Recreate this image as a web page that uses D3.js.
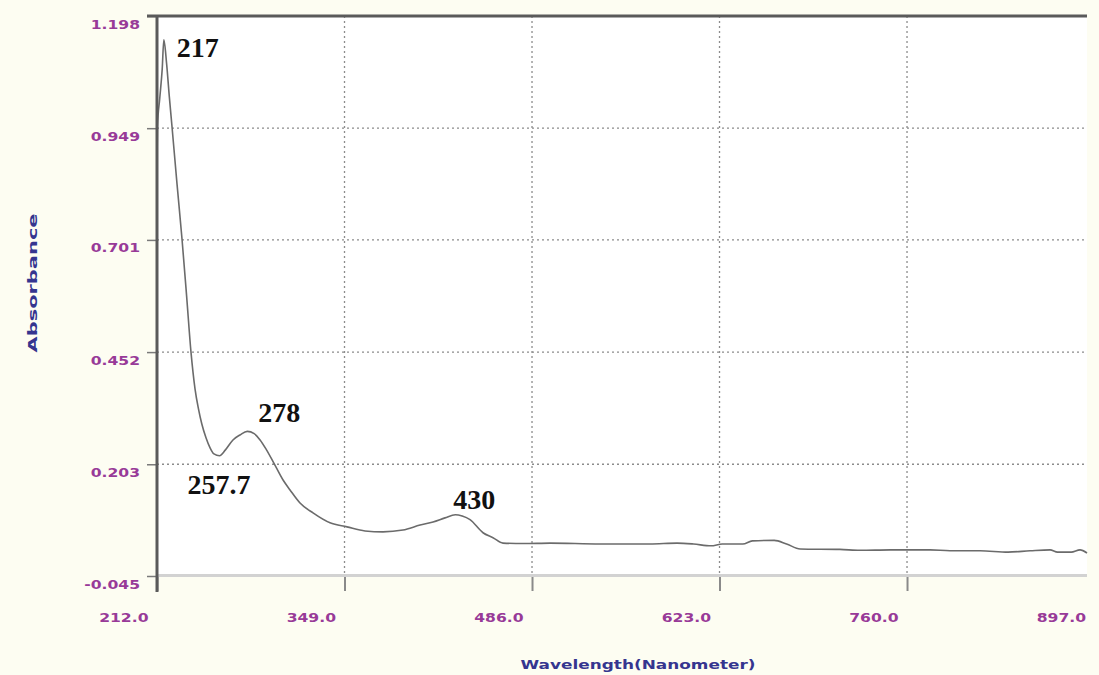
<!DOCTYPE html>
<html>
<head>
<meta charset="utf-8">
<script src="https://cdn.jsdelivr.net/npm/d3@7"></script>
<style>
  html, body { margin: 0; padding: 0; background: #fdfdf2; }
  svg { display: block; }
</style>
</head>
<body>
<svg id="chart" width="1099" height="675"></svg>
<script>
// UV-Vis absorbance spectrum
const wavelength = [
  212.0, 212.3, 214.0, 215.8, 217.0, 219.0, 221.0, 223.0, 226.6, 230.3,
  233.6, 236.8, 239.8, 242.3, 244.7, 247.8, 250.7, 253.6, 257.7, 262.0,
  267.5, 272.6, 278.0, 283.0, 287.3, 292.0, 296.8, 304.1, 309.2, 316.5,
  326.0, 338.4, 350.8, 364.0, 377.1, 391.7, 404.2, 413.7, 422.4, 430.0,
  435.0, 440.7, 450.2, 457.5, 464.8, 480.0, 499.2, 535.7, 572.2, 592.0,
  604.0, 616.8, 625.0, 640.0, 647.0, 663.0, 672.0, 681.9, 711.0, 725.7,
  747.7, 776.8, 791.4, 813.3, 833.8, 849.9, 864.5, 870.0, 880.0, 886.4,
  891.5
];
const absorbance = [
  0.864, 0.951, 1.015, 1.080, 1.145, 1.093, 1.019, 0.951, 0.826, 0.702,
  0.578, 0.453, 0.370, 0.326, 0.293, 0.262, 0.240, 0.226, 0.222, 0.235,
  0.257, 0.268, 0.276, 0.271, 0.257, 0.235, 0.209, 0.168, 0.146, 0.117,
  0.095, 0.073, 0.064, 0.055, 0.053, 0.057, 0.068, 0.075, 0.084, 0.091,
  0.088, 0.080, 0.051, 0.040, 0.028, 0.027, 0.028, 0.026, 0.026, 0.028,
  0.026, 0.022, 0.026, 0.026, 0.033, 0.034, 0.026, 0.015, 0.014, 0.012,
  0.013, 0.013, 0.011, 0.011, 0.008, 0.011, 0.013, 0.008, 0.008, 0.013,
  0.006
];

const xTickValues = [212, 349, 486, 623, 760, 897];
const yTickValues = [-0.045, 0.203, 0.452, 0.701, 0.949, 1.198];

const peakLabels = ["217", "278", "257.7", "430"];
const peakWavelengths = [217, 278, 257.7, 430];

const xTitle = "Wavelength(Nanometer)";
const yTitle = "Absorbance";

// ---- layout ----
const W = 1099, H = 675;
const plot = { left: 157, top: 16, right: 1087, bottom: 576 };
const xMax = 891.5;

const x = d3.scaleLinear().domain([212, xMax]).range([plot.left, plot.right]);
const y = d3.scaleLinear().domain([-0.045, 1.198]).range([plot.bottom, plot.top]);

const svg = d3.select("#chart");
const labelColor = "#983a98";
const titleColor = "#35358f";
const labelFont = "'DejaVu Sans', Verdana, sans-serif";

// backgrounds
svg.append("rect").attr("width", W).attr("height", H).attr("fill", "#fdfdf2");
svg.append("rect")
  .attr("x", plot.left).attr("y", plot.top)
  .attr("width", plot.right - plot.left).attr("height", plot.bottom - plot.top)
  .attr("fill", "#ffffff");

// dotted grid
const grid = svg.append("g")
  .attr("stroke", "#8c8c8c").attr("stroke-width", 1.3).attr("stroke-dasharray", "2,3");
grid.selectAll("line.v")
  .data(xTickValues.filter(v => v > 212 && v < xMax))
  .join("line").attr("class", "v")
  .attr("x1", d => x(d)).attr("x2", d => x(d))
  .attr("y1", plot.top).attr("y2", plot.bottom);
grid.selectAll("line.h")
  .data(yTickValues.filter(v => v > -0.045 && v < 1.198))
  .join("line").attr("class", "h")
  .attr("x1", plot.left).attr("x2", plot.right)
  .attr("y1", d => y(d)).attr("y2", d => y(d));

// stretches tick text horizontally to the wide face used on the instrument print-out
function widen(sel, k) {
  sel.each(function () {
    const w = this.getComputedTextLength();
    d3.select(this).attr("textLength", w * k).attr("lengthAdjust", "spacingAndGlyphs");
  });
}

// x axis
const xAxis = d3.axisBottom(x)
  .tickValues(xTickValues)
  .tickSize(15)
  .tickFormat(d => d.toFixed(1));
const gx = svg.append("g")
  .attr("transform", `translate(0,${plot.bottom})`)
  .call(xAxis)
  .attr("font-family", labelFont)
  .attr("font-size", 13)
  .attr("font-weight", "bold");
gx.select(".domain").remove();
gx.selectAll(".tick line")
  .attr("stroke", "#8a8a8a").attr("stroke-width", 2)
  .attr("display", d => (d > xMax ? "none" : null));
gx.selectAll(".tick text")
  .attr("fill", labelColor)
  .attr("text-anchor", "end")
  .attr("x", -9)
  .attr("y", 46)
  .attr("dy", 0)
  .call(widen, 1.2);

// y axis
const yAxis = d3.axisLeft(y)
  .tickValues(yTickValues)
  .tickSize(10)
  .tickPadding(7)
  .tickFormat(d => d.toFixed(3));
const gy = svg.append("g")
  .attr("transform", `translate(${plot.left},0)`)
  .call(yAxis)
  .attr("font-family", labelFont)
  .attr("font-size", 13)
  .attr("font-weight", "bold");
gy.select(".domain").remove();
gy.selectAll(".tick line").attr("stroke", "#7a7a7a").attr("stroke-width", 1.5);
gy.selectAll(".tick text")
  .attr("fill", labelColor)
  .attr("dy", 12)
  .call(widen, 1.2);

// spectrum trace
const line = d3.line()
  .x(d => x(d[0]))
  .y(d => y(d[1]))
  .curve(d3.curveMonotoneX);
svg.append("path")
  .datum(wavelength.map((w, i) => [w, absorbance[i]]))
  .attr("fill", "none")
  .attr("stroke", "#6b6b6b")
  .attr("stroke-width", 1.6)
  .attr("stroke-linejoin", "round")
  .attr("d", line);

// frame: light bottom rule, dark top border and left axis
svg.append("line")
  .attr("x1", plot.left).attr("x2", plot.right)
  .attr("y1", plot.bottom - 0.5).attr("y2", plot.bottom - 0.5)
  .attr("stroke", "#d2d2d2").attr("stroke-width", 3);
svg.append("line")
  .attr("x1", plot.left - 10).attr("x2", plot.right)
  .attr("y1", plot.top).attr("y2", plot.top)
  .attr("stroke", "#5a5a5a").attr("stroke-width", 3);
svg.append("line")
  .attr("x1", plot.left).attr("x2", plot.left)
  .attr("y1", plot.top).attr("y2", plot.bottom + 16)
  .attr("stroke", "#5a5a5a").attr("stroke-width", 3);

// peak annotations
const labelOffsets = [[13, 17], [11, -9], [-32, 38], [-2, -6]];
svg.append("g")
  .attr("font-family", "'Liberation Serif', 'Times New Roman', serif")
  .attr("font-weight", "bold")
  .attr("font-size", 28)
  .attr("fill", "#111")
  .selectAll("text")
  .data(peakLabels)
  .join("text")
  .attr("x", (d, i) => x(peakWavelengths[i]) + labelOffsets[i][0])
  .attr("y", (d, i) => y(absorbance[wavelength.indexOf(peakWavelengths[i])]) + labelOffsets[i][1])
  .text(d => d);

// axis titles
svg.append("text")
  .attr("x", 638).attr("y", 669)
  .attr("text-anchor", "middle")
  .attr("font-family", labelFont).attr("font-weight", "bold").attr("font-size", 13)
  .attr("fill", titleColor)
  .attr("textLength", 235).attr("lengthAdjust", "spacingAndGlyphs")
  .text(xTitle);
svg.append("text")
  .attr("transform", "translate(37,283) rotate(-90)")
  .attr("text-anchor", "middle")
  .attr("font-family", labelFont).attr("font-weight", "bold").attr("font-size", 13)
  .attr("fill", titleColor)
  .attr("textLength", 139).attr("lengthAdjust", "spacingAndGlyphs")
  .text(yTitle);
</script>
</body>
</html>
